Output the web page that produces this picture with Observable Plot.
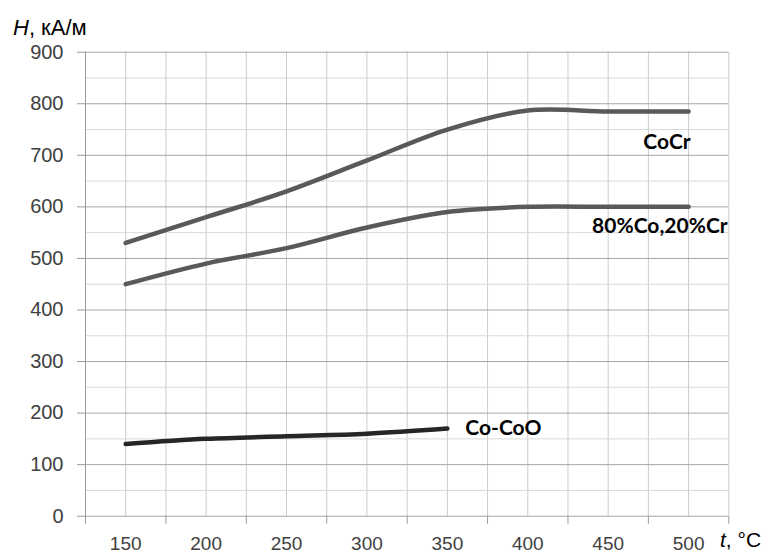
<!DOCTYPE html>
<html>
<head>
<meta charset="utf-8">
<script src="https://cdn.jsdelivr.net/npm/d3@7"></script>
<script src="https://cdn.jsdelivr.net/npm/@observablehq/plot@0.6"></script>
<style>
  html, body { margin: 0; padding: 0; background: #fff; }
</style>
</head>
<body>
<div id="chart"></div>
<script>
// ---- data ----
const categories = [150, 200, 250, 300, 350, 400, 450, 500];
const seriesNames = ["CoCr", "80%Co,20%Cr", "Co-CoO"];
const valuesCoCr = [530, 580, 630, 690, 750, 787, 785, 785];
const values80Co20Cr = [450, 490, 520, 560, 590, 600, 600, 600];
const valuesCoCoO = [140, 150, 155, 160, 170];
const yTicks = [0, 100, 200, 300, 400, 500, 600, 700, 800, 900];
const yMinorTicks = [50, 150, 250, 350, 450, 550, 650, 750, 850];
const yTitle = ["H", ", кА/м"];
const xTitle = ["t", ", °C"];

// ---- derived tables ----
const half = (categories[1] - categories[0]) / 2;
const boundaries = categories.map(c => c - half).concat([categories[categories.length - 1] + half]);
const vGrid = boundaries.concat(categories);
const allSeries = [valuesCoCr, values80Co20Cr, valuesCoCoO];
const rows = [];
allSeries.forEach((vals, i) => vals.forEach((v, j) => rows.push({series: seriesNames[i], t: categories[j], h: v})));
const colors = {"CoCr": "#595959", "80%Co,20%Cr": "#595959", "Co-CoO": "#262626"};

const labelFont = "Lato, 'Open Sans', sans-serif";
function label(name, opts) {
  return Plot.text(rows.filter(d => d.series === name), Plot.selectLast({
    x: "t", y: "h", text: "series", fontFamily: labelFont, fontWeight: "bold",
    fontSize: 21, fill: "#000", ...opts
  }));
}

const chart = Plot.plot({
  width: 771,
  height: 554,
  marginLeft: 85,
  marginRight: 42.7,
  marginTop: 51.7,
  marginBottom: 38.3,
  x: {domain: [boundaries[0], boundaries[boundaries.length - 1]]},
  y: {domain: [0, 900]},
  style: {fontFamily: "'Liberation Sans', Arial, sans-serif", fontSize: "19px", color: "#404040", background: "#fff"},
  marks: [
    Plot.gridX({ticks: vGrid, stroke: "#cccccc", strokeOpacity: 1}),
    Plot.gridY({ticks: yMinorTicks, stroke: "#d9d9d9", strokeOpacity: 1}),
    Plot.gridY({ticks: yTicks, stroke: "#a6a6a6", strokeOpacity: 1}),
    Plot.ruleX([boundaries[0]], {stroke: "#9a9a9a"}),
    Plot.axisY({ticks: yTicks, tickSize: 8, tickPadding: 14, stroke: "#9a9a9a", label: null, fontSize: 20}),
    Plot.axisX({ticks: boundaries, tickSize: 8, tickFormat: () => "", stroke: "#9a9a9a", label: null}),
    Plot.axisX({ticks: categories, tickSize: 0, tickPadding: 20, label: null, fontSize: 19}),
    Plot.line(rows, {x: "t", y: "h", z: "series", stroke: d => colors[d.series], strokeWidth: 4.5,
      curve: "catmull-rom", strokeLinecap: "round", strokeLinejoin: "round"}),
    label("CoCr", {textAnchor: "end", dx: 2, dy: 31}),
    label("80%Co,20%Cr", {textAnchor: "end", dx: 39, dy: 19}),
    label("Co-CoO", {textAnchor: "start", dx: 18, dy: 0})
  ]
});

document.getElementById("chart").appendChild(chart);

const svg = d3.select(chart);
const yt = svg.append("text").attr("x", 13).attr("y", 35).attr("text-anchor", "start")
  .attr("font-family", "'Liberation Sans', Arial, sans-serif").attr("font-size", 22).attr("fill", "#000");
yt.append("tspan").attr("font-style", "italic").text(yTitle[0]);
yt.append("tspan").text(yTitle[1]);
const xt = svg.append("text").attr("x", 720).attr("y", 547).attr("text-anchor", "start")
  .attr("font-family", "'Liberation Sans', Arial, sans-serif").attr("font-size", 21).attr("fill", "#000");
xt.append("tspan").attr("font-style", "italic").text(xTitle[0]);
xt.append("tspan").text(xTitle[1]);
</script>
</body>
</html>
